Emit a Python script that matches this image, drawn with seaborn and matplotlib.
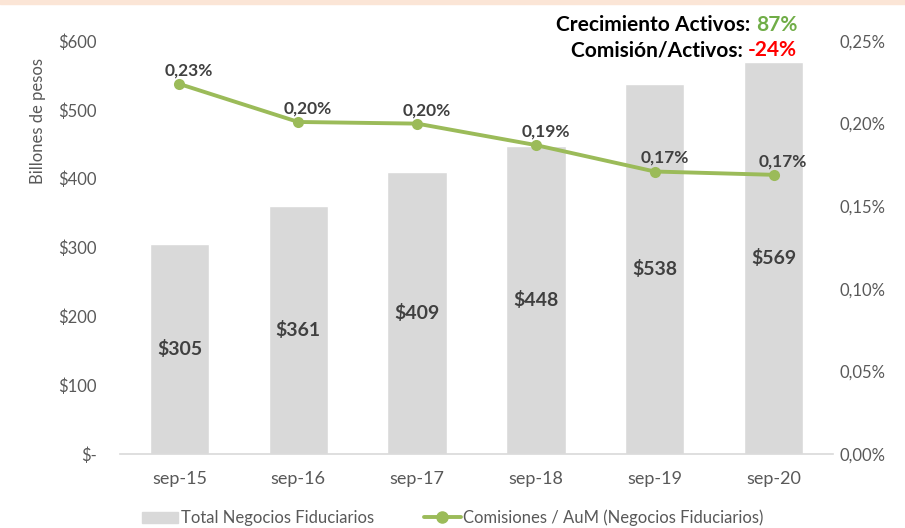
import numpy as np
import matplotlib
matplotlib.use('Agg')
import matplotlib.pyplot as plt
import seaborn as sns
from matplotlib.patches import Patch
from matplotlib.lines import Line2D

periodos = ['sep-15', 'sep-16', 'sep-17', 'sep-18', 'sep-19', 'sep-20']
activos = [305, 361, 409, 448, 538, 569]
comision_pct = [0.224, 0.201, 0.200, 0.187, 0.171, 0.169]
comision_lbl = ['0,23%', '0,20%', '0,20%', '0,19%', '0,17%', '0,17%']
ytick_vals = [0, 100, 200, 300, 400, 500, 600]
ytick_lbls = ['$-', '$100', '$200', '$300', '$400', '$500', '$600']
y2tick_vals = [0, 0.05, 0.10, 0.15, 0.20, 0.25]
y2tick_lbls = ['0,00%', '0,05%', '0,10%', '0,15%', '0,20%', '0,25%']

sns.set_style('white')
plt.rcParams['font.family'] = ['Lato', 'DejaVu Sans']

bar_c = '#D9D9D9'
line_c = '#9BBB59'
tick_c = '#595959'
lbl_c = '#404040'

fig = plt.figure(figsize=(9.05, 5.28), dpi=100)
ax = fig.add_axes([0.1326, 0.1402, 0.7878, 0.7821])
sns.barplot(x=periodos, y=activos, color=bar_c, width=0.5, saturation=1, ax=ax)
ax.set_ylim(0, 600)
ax.set_xlim(-0.5, 5.5)
ax.set_yticks(ytick_vals)
ax.set_yticklabels(ytick_lbls)
ax.set_xlabel('')
ax.set_ylabel('')
for s in ['top', 'right', 'left']:
    ax.spines[s].set_visible(False)
ax.spines['bottom'].set_color('#D9D9D9')
ax.spines['bottom'].set_linewidth(1.2)
ax.tick_params(axis='y', length=0, colors=tick_c, labelsize=12, pad=16.5)
ax.tick_params(axis='x', length=0, colors=tick_c, labelsize=13, pad=12)
for i, v in enumerate(activos):
    ax.text(i, v / 2, f'${v}', ha='center', va='center', fontsize=14,
            fontweight='bold', color=lbl_c)

ax2 = ax.twinx()
sns.lineplot(x=np.arange(len(periodos)), y=comision_pct, color=line_c, lw=2.8,
             marker='o', markersize=8, markeredgewidth=0, ax=ax2)
ax2.set_ylim(0, 0.25)
ax2.set_xlim(-0.5, 5.5)
ax2.set_yticks(y2tick_vals)
ax2.set_yticklabels(y2tick_lbls)
for s in ['top', 'right', 'left', 'bottom']:
    ax2.spines[s].set_visible(False)
ax2.tick_params(axis='y', length=0, colors=tick_c, labelsize=12, pad=4.5)
for i, (v, t) in enumerate(zip(comision_pct, comision_lbl)):
    ax2.annotate(t, (i, v), xytext=(7, 4), textcoords='offset points',
                 ha='center', va='bottom', fontsize=12.5, fontweight='bold',
                 color=lbl_c)

fig.text(0.042, 0.77, 'Billones de pesos', rotation=90, ha='center', va='center',
         fontsize=12, color=tick_c)

# encabezado: texto negro + cifra en color, alineado a la derecha
renderer = fig.canvas.get_renderer()
x_right = 0.8807
for y, lab, num, col in [(0.953, 'Crecimiento Activos: ', '87%', '#70AD47'),
                         (0.905, 'Comisión/Activos: ', '-24%', '#FF0000')]:
    t_num = fig.text(x_right, y, num, ha='right', va='center', fontsize=15,
                     fontweight='bold', color=col)
    bb = t_num.get_window_extent(renderer=renderer)
    x0 = bb.x0 / fig.bbox.width
    fig.text(x0, y, lab, ha='right', va='center', fontsize=15,
             fontweight='bold', color='black')

fig.patches.append(plt.Rectangle((0, 0.992), 1, 0.008, transform=fig.transFigure,
                                 color='#FBE5D6', zorder=0))

handles = [Patch(color=bar_c, label='Total Negocios Fiduciarios'),
           Line2D([0], [0], color=line_c, lw=2.8, marker='o', markersize=8,
                  label='Comisiones / AuM (Negocios Fiduciarios)')]
fig.legend(handles=handles, loc='center', bbox_to_anchor=(0.5, 0.019), ncol=2,
           frameon=False, fontsize=12, handlelength=2.2, columnspacing=3,
           labelcolor=tick_c, handletextpad=0.15)

fig.savefig('out.png', dpi=100)
